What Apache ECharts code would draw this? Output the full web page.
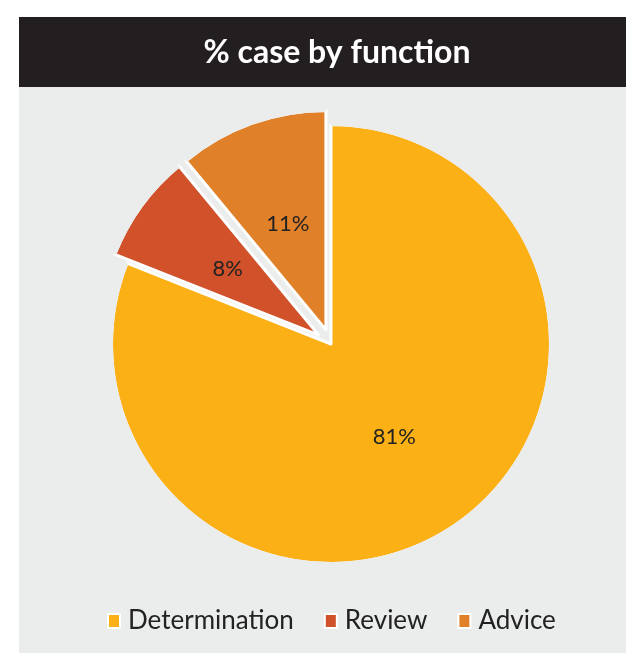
<!DOCTYPE html>
<html>
<head>
<meta charset="utf-8">
<script src="https://cdn.jsdelivr.net/npm/echarts@6/dist/echarts.min.js"></script>
<style>
  html, body { margin: 0; padding: 0; background: #fff; }
  #pie { width: 626px; height: 653px; }
</style>
</head>
<body>
<div id="pie"></div>
<script>
// % of cases by function
var categories = ['Determination', 'Review', 'Advice'];
var shares = [81, 8, 11];
var colors = ['#FBB016', '#D0512A', '#E0812A'];
var panelGray = '#EBECEC';

var chart = echarts.init(document.getElementById('pie'));

var pieData = categories.map(function (name, i) {
  return {
    name: name,
    value: shares[i],
    selected: i > 0,
    itemStyle: { color: colors[i] }
  };
});

// thin ring in the panel colour that hides the white stroke on the outer arc
var maskData = categories.map(function (name, i) {
  return { name: 'mask-' + i, value: shares[i], selected: i > 0 };
});

var option = {
  backgroundColor: '#ffffff',
  animation: false,
  graphic: [
    {
      type: 'rect', silent: true, z: -10,
      shape: { x: 19, y: 87, width: 607, height: 566 },
      style: { fill: panelGray }
    },
    {
      type: 'rect', silent: true, z: -10,
      shape: { x: 19, y: 17, width: 607, height: 70 },
      style: { fill: '#231F20' }
    }
  ],
  title: {
    text: '% case by function',
    left: 332,
    top: 32,
    textAlign: 'center',
    textStyle: {
      color: '#ffffff',
      fontFamily: 'Lato',
      fontWeight: 'bold',
      fontSize: 32
    }
  },
  legend: {
    data: categories,
    left: 102,
    top: 603,
    icon: 'rect',
    itemWidth: 12,
    itemHeight: 14,
    itemGap: 30,
    textStyle: {
      color: '#222222',
      fontFamily: 'Lato',
      fontSize: 26,
      padding: [0, 0, 0, 3]
    },
    selectedMode: false
  },
  series: [
    {
      type: 'pie',
      z: 2,
      center: [331, 344],
      radius: [0, 219.5],
      startAngle: 90,
      clockwise: true,
      selectedMode: 'multiple',
      selectedOffset: 15,
      itemStyle: { borderColor: '#ffffff', borderWidth: 3 },
      label: {
        position: 'inside',
        formatter: '{c}%',
        color: '#222222',
        fontFamily: 'Lato',
        fontSize: 22
      },
      labelLine: { show: false },
      emphasis: { disabled: true },
      data: pieData
    },
    {
      type: 'pie',
      z: 3,
      silent: true,
      center: [331, 344],
      radius: [218, 224],
      startAngle: 90,
      clockwise: true,
      selectedMode: 'multiple',
      selectedOffset: 15,
      itemStyle: { color: panelGray, borderWidth: 0 },
      label: { show: false },
      labelLine: { show: false },
      emphasis: { disabled: true },
      data: maskData
    }
  ]
};

chart.setOption(option);
</script>
</body>
</html>
